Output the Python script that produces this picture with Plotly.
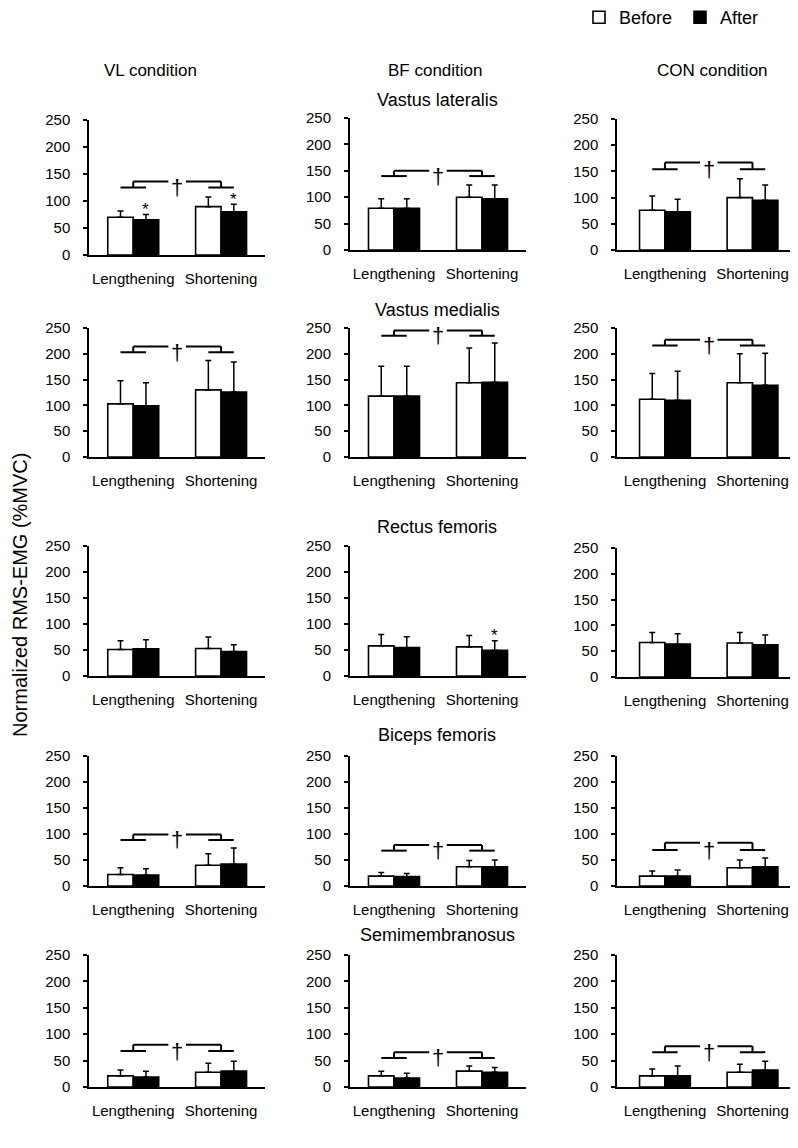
import plotly.graph_objects as go

W, H = 798, 1148
OFF = 8  # page body margin offset
FONT = "Arial, Liberation Sans, sans-serif"

categories = ["Lengthening", "Shortening"]
conditions = ["VL condition", "BF condition", "CON condition"]
muscles = ["Vastus lateralis", "Vastus medialis", "Rectus femoris", "Biceps femoris", "Semimembranosus"]
y_ticks = [0, 50, 100, 150, 200, 250]

# [muscle][condition] -> [Lengthening, Shortening]
before_mean = [
    [[70, 89.5], [79, 100], [76, 100]],
    [[103, 130], [118, 144], [112, 144]],
    [[51, 53], [58, 56], [67, 66]],
    [[22, 40], [19, 37], [19, 35]],
    [[21, 28], [21, 30], [21, 28]],
]
before_sd = [
    [[11.5, 18], [18, 23], [27, 36]],
    [[45, 57], [58, 67], [50, 56]],
    [[17, 22], [22, 22], [19, 20]],
    [[13, 22], [7, 12], [10, 15]],
    [[11, 17], [9, 10], [13, 15]],
]
after_mean = [
    [[65, 80], [79, 97], [73, 95]],
    [[99, 126], [118, 145], [110, 139]],
    [[52.5, 47], [54.5, 49.5], [64, 62.5]],
    [[21, 42], [18, 37], [19, 37]],
    [[19, 30], [17, 28], [21, 32]],
]
after_sd = [
    [[10, 14], [18, 26], [24, 29]],
    [[45, 58], [58, 76], [56, 62]],
    [[17, 13], [21, 18.5], [20, 19]],
    [[12, 31], [6, 13], [12, 17]],
    [[11, 19], [9, 9], [19, 17]],
]
# significance bracket levels (lower arm, upper arm); None = no bracket
bracket_low = [
    [125, 140, 154],
    [203, 235, 216],
    [None, None, None],
    [88.5, 68, 69],
    [68, 55, 66],
]
bracket_high = [
    [136, 150, 167],
    [214, 245, 227],
    [None, None, None],
    [99, 79, 83],
    [80, 66, 77],
]
# asterisks above "After" bars: (muscle, condition, category)
asterisks = [(0, 0, 0), (0, 0, 1), (2, 1, 1)]

# ---- layout geometry (screen pixels of the target picture) ----
xdom_px = [(89.3, 265), (350, 526), (617.3, 797)]
xranges = [(-0.5, 1.5), (-0.5, 1.5), (-0.544, 1.508)]
ydom_px = [
    [(120, 255), (118, 250), (119, 250)],
    [(328, 457), (328, 457), (328, 457)],
    [(546, 676), (546, 676), (548, 677)],
    [(756, 886), (756, 886), (756, 886)],
    [(955, 1087), (955, 1087), (955, 1087)],
]

def px(x):
    return (x - OFF) / W

def py(y):
    return 1 - (y - OFF) / H

fig = go.Figure()
layout = {}
shapes = []
annotations = []
BW = 0.29
xpos = [0, 1]

n = 0
for r in range(5):
    for c in range(3):
        n += 1
        xa = "x" if n == 1 else f"x{n}"
        ya = "y" if n == 1 else f"y{n}"
        xk = "xaxis" if n == 1 else f"xaxis{n}"
        yk = "yaxis" if n == 1 else f"yaxis{n}"
        bm, bs = before_mean[r][c], before_sd[r][c]
        am, asd = after_mean[r][c], after_sd[r][c]
        fig.add_trace(go.Bar(
            x=xpos, y=bm, name="Before", xaxis=xa, yaxis=ya,
            marker=dict(color="white", line=dict(color="black", width=1.6)),
            error_y=dict(type="data", symmetric=False, array=bs, arrayminus=[0, 0],
                         color="black", thickness=1.5, width=3),
            showlegend=(n == 1), legendgroup="b",
        ))
        fig.add_trace(go.Bar(
            x=xpos, y=am, name="After", xaxis=xa, yaxis=ya,
            marker=dict(color="black", line=dict(color="black", width=1.6)),
            error_y=dict(type="data", symmetric=False, array=asd, arrayminus=[0, 0],
                         color="black", thickness=1.5, width=3),
            showlegend=(n == 1), legendgroup="a",
        ))
        x0, x1 = xdom_px[c]
        top, bot = ydom_px[r][c]
        layout[xk] = dict(
            domain=[px(x0), px(x1)], range=list(xranges[c]), anchor=ya,
            tickvals=xpos, ticktext=categories, ticks="outside", ticklen=9,
            tickcolor="rgba(0,0,0,0)", showline=True, linecolor="black", linewidth=2,
            showgrid=False, zeroline=False, fixedrange=True, automargin=False,
            tickfont=dict(family=FONT, size=15, color="black"),
        )
        layout[yk] = dict(
            domain=[py(bot), py(top)], range=[0, 250], anchor=xa,
            tickvals=y_ticks, ticks="outside", ticklen=4, tickwidth=2, tickcolor="black",
            showline=True, linecolor="black", linewidth=2, automargin=False,
            showgrid=False, zeroline=False, fixedrange=True, ticklabelstandoff=10,
            tickfont=dict(family=FONT, size=15, color="black"),
        )
        # bracket
        lo, hi = bracket_low[r][c], bracket_high[r][c]
        if lo is not None:
            ln = dict(color="black", width=2)
            for cat in xpos:
                shapes.append(dict(type="line", xref=xa, yref=ya, x0=cat - BW / 2, x1=cat + BW / 2,
                                   y0=lo, y1=lo, line=ln))
                shapes.append(dict(type="line", xref=xa, yref=ya, x0=cat, x1=cat,
                                   y0=lo, y1=hi, line=ln))
            shapes.append(dict(type="line", xref=xa, yref=ya, x0=0, x1=0.4, y0=hi, y1=hi, line=ln))
            shapes.append(dict(type="line", xref=xa, yref=ya, x0=0.6, x1=1, y0=hi, y1=hi, line=ln))
            annotations.append(dict(xref=xa, yref=ya, x=0.5, y=lo, text="†",
                                    showarrow=False, yanchor="middle",
                                    font=dict(family=FONT, size=22, color="#000000")))
        for (mr, mc, cat) in asterisks:
            if mr == r and mc == c:
                annotations.append(dict(xref=xa, yref=ya, x=cat + BW / 2,
                                        y=am[cat] + asd[cat], text="*", showarrow=False,
                                        yanchor="middle", yshift=5,
                                        font=dict(family=FONT, size=17, color="black")))

cond_x = [150, 435, 712]
for t, x in zip(conditions, cond_x):
    annotations.append(dict(xref="paper", yref="paper", x=px(x), y=py(70), text=t,
                            showarrow=False, xanchor="center", yanchor="middle",
                            font=dict(family=FONT, size=17, color="black")))
mus_y = [100, 310, 527, 735, 935]
for t, y in zip(muscles, mus_y):
    annotations.append(dict(xref="paper", yref="paper", x=px(437), y=py(y), text=t,
                            showarrow=False, xanchor="center", yanchor="middle",
                            font=dict(family=FONT, size=18, color="black")))
annotations.append(dict(xref="paper", yref="paper", x=0, y=py(595),
                        text="Normalized RMS-EMG (%MVC)", textangle=-90, showarrow=False,
                        xanchor="left", yanchor="middle", borderpad=0,
                        font=dict(family=FONT, size=20, color="black")))

fig.update_layout(
    width=W, height=H, margin=dict(l=0, r=0, t=0, b=0, autoexpand=False),
    paper_bgcolor="white", plot_bgcolor="white",
    barmode="group", bargap=0.42, bargroupgap=0,
    shapes=shapes, annotations=annotations,
    legend=dict(orientation="h", x=px(579), y=py(-1), xanchor="left", yanchor="top",
                font=dict(family=FONT, size=18, color="black"), bgcolor="rgba(0,0,0,0)",
                itemwidth=30, tracegroupgap=0, entrywidth=56, entrywidthmode="pixels"),
    **layout,
)

fig.write_html("out.html")
